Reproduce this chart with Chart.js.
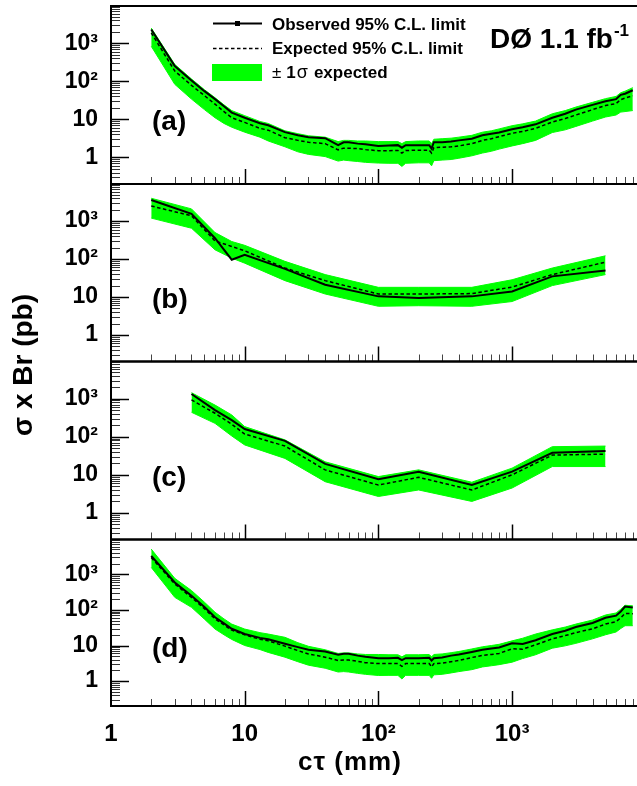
<!DOCTYPE html>
<html>
<head>
<meta charset="utf-8">
<title>Long-lived particle limits</title>
<script src="https://cdn.jsdelivr.net/npm/chart.js@4.4.1/dist/chart.umd.min.js"></script>
<style>
  html, body { margin: 0; padding: 0; background: #fff; overflow: hidden; }
  #wrap { position: relative; width: 637px; height: 786px; }
</style>
</head>
<body>
<div id="wrap"><canvas id="limits" width="637" height="786"></canvas></div>
<script>
// c-tau points (mm) for panels (a) and (d)
const ctauFine = [2, 3, 4, 5, 6, 7, 8, 10, 13, 15, 20, 25, 30, 40, 50, 55, 60, 70, 80, 100,
  120, 140, 150, 160, 200, 240, 250, 260, 300, 350, 400, 500, 600, 700, 800, 1000,
  1200, 1500, 2000, 2500, 3000, 4000, 5000, 6000, 6500, 7000, 8000];

// panel (a)
const obsA = [2290, 251, 105, 55, 34, 22, 15, 11, 7.9, 7.0, 4.6, 3.8, 3.4, 3.2, 2.1, 2.5, 2.5, 2.3, 2.2, 2.0,
  2.05, 2.1, 1.8, 2.1, 2.1, 2.1, 1.7, 2.5, 2.5, 2.6, 2.8, 3.1, 3.8, 4.2, 4.5, 5.5,
  6.2, 7.4, 11, 14, 18, 24, 30, 34, 44, 47, 58];
const expA = [1870, 186, 78, 42, 25, 16, 11, 8.3, 5.8, 5.2, 3.3, 2.8, 2.5, 2.3, 1.58, 1.75, 1.75, 1.7, 1.6, 1.5,
  1.5, 1.52, 1.3, 1.52, 1.55, 1.55, 1.3, 1.8, 1.85, 1.9, 2.0, 2.3, 2.8, 3.1, 3.5, 4.3,
  4.8, 5.8, 8.5, 10.5, 13, 18, 23, 26, 33, 36, 42];
const loA = [830, 83, 34, 18, 11, 7.8, 6.2, 4.6, 3.4, 2.7, 1.9, 1.4, 1.2, 1.05, 0.8, 0.85, 0.82, 0.78, 0.74, 0.71,
  0.7, 0.7, 0.58, 0.7, 0.72, 0.72, 0.6, 0.82, 0.85, 0.88, 0.95, 1.1, 1.3, 1.45, 1.65, 2.0,
  2.3, 2.8, 4.5, 5.3, 6.5, 9, 11.5, 13, 15.5, 16, 17];
const hiA = [2500, 277, 115, 60, 37, 24, 17, 12.5, 8.8, 7.8, 5.0, 4.2, 3.7, 3.4, 2.6, 2.8, 2.8, 2.7, 2.7, 2.6,
  2.6, 2.6, 2.3, 2.6, 2.7, 2.7, 2.3, 3.0, 3.1, 3.2, 3.4, 3.8, 4.6, 5.0, 5.6, 6.8,
  7.6, 9.0, 14, 17, 21, 28, 35, 40, 50, 55, 68];

// panel (b)
const ctauB = [2, 4, 6, 8, 10, 20, 40, 100, 200, 500, 1000, 2000, 5000];
const obsB = [3600, 1550, 355, 96, 130, 55, 21, 10.4, 9.4, 10.4, 14, 35, 50];
const expB = [2500, 1380, 300, 215, 165, 58, 27, 12, 12, 12.3, 18.3, 39, 83];
const loB = [1200, 650, 175, 106, 78, 27, 12, 5.7, 5.9, 5.7, 7.6, 20, 39];
const hiB = [4000, 2100, 500, 290, 230, 87, 39, 18, 18, 18, 28.5, 58, 122];

// panel (c)
const ctauC = [4, 6, 8, 10, 20, 40, 100, 200, 500, 1000, 2000, 5000];
const obsC = [1330, 500, 275, 160, 78, 19.4, 7.7, 12.1, 5.4, 12.1, 38, 42];
const expC = [930, 415, 213, 118, 57, 13.5, 5.4, 8.6, 4.0, 10, 33, 35];
const loC = [440, 225, 105, 61, 27, 6.6, 2.7, 4.0, 2.0, 4.5, 16.5, 16.5];
const hiC = [1440, 680, 375, 185, 83, 22, 9, 13.5, 6.4, 15, 55, 57];

// panel (d)
const obsD = [3300, 590, 250, 120, 62, 42, 29.5, 21, 16.4, 15, 11.2, 9.0, 7.6, 6.8, 5.5, 5.9, 5.9, 5.2, 4.8, 4.4,
  4.4, 4.5, 3.9, 4.4, 4.4, 4.5, 3.8, 4.4, 4.6, 5.2, 5.6, 6.6, 7.6, 8.3, 8.8, 11.6,
  11, 14, 21, 26, 33, 43, 60, 69, 90, 124, 116];
const expD = [2960, 535, 225, 108, 56, 38, 27, 20, 15, 13.5, 9.6, 7.2, 5.8, 4.7, 3.8, 3.9, 3.9, 3.6, 3.3, 3.1,
  3.1, 3.1, 2.6, 3.1, 3.1, 3.1, 2.5, 3.1, 3.2, 3.5, 3.8, 4.6, 5.3, 5.6, 6.0, 8.1,
  7.9, 10.5, 15.4, 19, 23, 29.5, 40, 47, 60, 80, 78];
const loD = [1560, 225, 118, 55, 29, 20, 14.8, 10, 7.7, 6.4, 4.7, 3.5, 2.8, 2.3, 1.8, 1.85, 1.8, 1.65, 1.55, 1.44,
  1.45, 1.45, 1.15, 1.45, 1.45, 1.45, 1.2, 1.5, 1.55, 1.7, 1.85, 2.1, 2.5, 2.7, 2.9, 3.4,
  4.3, 5.5, 8.4, 9.8, 11.5, 15.4, 20, 24, 30, 36, 36];
const hiD = [5100, 770, 350, 165, 86, 56, 40, 29, 23, 21, 17, 12, 9.5, 7.6, 6.0, 6.2, 6.2, 5.8, 5.6, 5.6,
  5.5, 5.5, 4.8, 5.5, 5.5, 5.6, 4.8, 5.6, 5.8, 6.3, 6.8, 8.0, 9.2, 10, 10.8, 13.5,
  16, 21, 27.5, 33, 40, 52, 72, 82, 105, 135, 130];

// axis labels
const xTickValues = [1, 10, 100, 1000];
const xTickLabels = ['1', '10', '10²', '10³'];
const yTickValues = [1, 10, 100, 1000];
const yTickLabels = ['1', '10', '10²', '10³'];
const panelTags = ['(a)', '(b)', '(c)', '(d)'];
const legendLabels = ['Observed 95% C.L. limit', 'Expected 95% C.L. limit', 'expected'];

const FAMILY = "'Liberation Sans', Arial, Helvetica, sans-serif";
const GREEN = '#00ff00';
const panelIds = ['yA', 'yB', 'yC', 'yD'];
const panelWeights = [178, 177.5, 178, 166.5];

Chart.defaults.font.family = FAMILY;
Chart.defaults.color = '#000';

function pts(xs, ys) {
  return xs.map((x, i) => ({x: x, y: ys[i]}));
}

function labelFor(v, values, labels) {
  for (let i = 0; i < values.length; i++) {
    if (Math.abs(v - values[i]) < values[i] * 1e-6) return labels[i];
  }
  return null;
}

const panels = [
  {axis: 'yA', x: ctauFine, obs: obsA, exp: expA, lo: loA, hi: hiA},
  {axis: 'yB', x: ctauB, obs: obsB, exp: expB, lo: loB, hi: hiB},
  {axis: 'yC', x: ctauC, obs: obsC, exp: expC, lo: loC, hi: hiC},
  {axis: 'yD', x: ctauFine, obs: obsD, exp: expD, lo: loD, hi: hiD}
];

// lines first (drawn on top), bands after
const datasets = [];
panels.forEach(p => {
  datasets.push({label: 'observed', data: pts(p.x, p.obs), yAxisID: p.axis,
    borderColor: '#000', borderWidth: 2, pointRadius: 0, fill: false});
  datasets.push({label: 'expected', data: pts(p.x, p.exp), yAxisID: p.axis,
    borderColor: '#000', borderWidth: 1.5, borderDash: [3.5, 2.5], pointRadius: 0, fill: false});
});
panels.forEach(p => {
  const lowIdx = datasets.length;
  datasets.push({label: 'band low', data: pts(p.x, p.lo), yAxisID: p.axis,
    borderColor: GREEN, borderWidth: 1, pointRadius: 0, fill: false});
  datasets.push({label: 'band high', data: pts(p.x, p.hi), yAxisID: p.axis,
    borderColor: GREEN, borderWidth: 1, pointRadius: 0,
    backgroundColor: GREEN, fill: {target: lowIdx}});
});

function yAxis(k) {
  return {
    type: 'logarithmic', position: 'left', stack: 'panels',
    stackWeight: panelWeights[k], weight: 4 - k,
    min: 0.2, max: 9500,
    grid: {display: false, drawTicks: false},
    border: {display: false},
    ticks: {
      autoSkip: false, padding: 13,
      font: {size: 23, weight: 'bold'}, color: '#000',
      callback: v => labelFor(v, yTickValues, yTickLabels)
    },
    afterFit: s => { s.width = 111; s.paddingTop = 0; s.paddingBottom = 0; }
  };
}

const scales = {
  x: {
    type: 'logarithmic', position: 'bottom', min: 1, max: 8600,
    grid: {display: false, drawTicks: false},
    border: {display: false},
    ticks: {
      autoSkip: false, maxRotation: 0, padding: 14,
      font: {size: 24, weight: 'bold'}, color: '#000',
      callback: v => labelFor(v, xTickValues, xTickLabels)
    },
    afterFit: s => { s.height = 80; s.paddingLeft = 0; s.paddingRight = 0; }
  }
};
panelIds.forEach((id, k) => { scales[id] = yAxis(k); });

// frames, inward ticks and all the free text
const framePlugin = {
  id: 'framePlugin',
  afterDatasetsDraw(chart) {
    const {ctx, chartArea: ca} = chart;
    const xs = chart.scales.x;
    ctx.save();
    panelIds.forEach((id, k) => {
      const ys = chart.scales[id];
      const top = ys.top, bot = ys.bottom;

      for (let e = -1; e <= 3; e++) {
        for (let s = 1; s <= 9; s++) {
          const v = s * Math.pow(10, e);
          if (v < ys.min || v > ys.max) continue;
          const py = Math.round(ys.getPixelForValue(v)) + 0.5;
          const major = s === 1;
          ctx.strokeStyle = major ? '#000' : '#333';
          ctx.lineWidth = major ? 1.5 : 1;
          ctx.beginPath();
          ctx.moveTo(ca.left, py);
          ctx.lineTo(ca.left + (major ? 18 : 9), py);
          ctx.stroke();
        }
      }

      for (let e = 0; e <= 3; e++) {
        for (let s = 1; s <= 9; s++) {
          const v = s * Math.pow(10, e);
          if (v <= xs.min || v > xs.max) continue;
          const px = Math.round(xs.getPixelForValue(v)) + 0.5;
          const major = s === 1;
          ctx.strokeStyle = major ? '#000' : '#444';
          ctx.lineWidth = major ? 1.5 : 1;
          ctx.beginPath();
          ctx.moveTo(px, bot);
          ctx.lineTo(px, bot - (major ? 15 : 7));
          ctx.stroke();
        }
      }

      ctx.strokeStyle = '#000';
      ctx.lineWidth = 2;
      ctx.beginPath();
      ctx.moveTo(ca.right, top);
      ctx.lineTo(ca.left, top);
      ctx.lineTo(ca.left, bot);
      ctx.lineTo(ca.right, bot);
      ctx.stroke();

      ctx.fillStyle = '#000';
      ctx.font = 'bold 28px ' + FAMILY;
      ctx.textAlign = 'left';
      ctx.textBaseline = 'alphabetic';
      ctx.fillText(panelTags[k], ca.left + 41, ys.getPixelForValue(10) + 11);
    });

    // legend
    const lx0 = 213, lx1 = 262;
    ctx.strokeStyle = '#000';
    ctx.lineWidth = 2;
    ctx.setLineDash([]);
    ctx.beginPath(); ctx.moveTo(lx0, 23.5); ctx.lineTo(lx1, 23.5); ctx.stroke();
    ctx.fillStyle = '#000';
    ctx.fillRect(235, 21, 5, 5);
    ctx.lineWidth = 1.5;
    ctx.setLineDash([3.5, 2.5]);
    ctx.beginPath(); ctx.moveTo(lx0, 48.5); ctx.lineTo(lx1, 48.5); ctx.stroke();
    ctx.setLineDash([]);
    ctx.fillStyle = GREEN;
    ctx.fillRect(212, 64, 50, 17);

    ctx.fillStyle = '#000';
    ctx.textAlign = 'left';
    ctx.textBaseline = 'alphabetic';
    ctx.font = 'bold 17px ' + FAMILY;
    ctx.fillText(legendLabels[0], 272, 30);
    ctx.fillText(legendLabels[1], 272, 54);
    let tx = 272;
    ctx.font = '17px ' + FAMILY;
    ctx.fillText('±', tx, 78); tx += ctx.measureText('±').width + 5;
    ctx.font = 'bold 17px ' + FAMILY;
    ctx.fillText('1', tx, 78); tx += ctx.measureText('1').width + 1;
    ctx.font = '18px ' + FAMILY;
    ctx.fillText('σ', tx, 78); tx += ctx.measureText('σ').width + 6;
    ctx.font = 'bold 17px ' + FAMILY;
    ctx.fillText(legendLabels[2], tx, 78);

    // experiment tag
    ctx.font = 'bold 28px ' + FAMILY;
    const tag = 'DØ 1.1 fb';
    ctx.fillText(tag, 490, 48);
    const tw = ctx.measureText(tag).width;
    ctx.font = 'bold 17px ' + FAMILY;
    ctx.fillText('-1', 490 + tw + 1, 36);

    // axis titles
    ctx.font = 'bold 26px ' + FAMILY;
    ctx.letterSpacing = '1px';
    ctx.fillText('cτ (mm)', 298, 770);
    ctx.letterSpacing = '0px';

    ctx.save();
    ctx.translate(32, 365);
    ctx.rotate(-Math.PI / 2);
    ctx.textAlign = 'center';
    ctx.font = 'bold 28px ' + FAMILY;
    ctx.fillText('σ x Br (pb)', 0, 0);
    ctx.restore();

    ctx.restore();
  }
};

new Chart(document.getElementById('limits'), {
  type: 'line',
  data: {datasets: datasets},
  options: {
    responsive: false,
    animation: false,
    layout: {padding: {top: 6, left: 0, right: 0, bottom: 0}},
    elements: {line: {tension: 0}},
    plugins: {legend: {display: false}, tooltip: {enabled: false}, title: {display: false}},
    scales: scales
  },
  plugins: [framePlugin]
});
</script>
</body>
</html>
